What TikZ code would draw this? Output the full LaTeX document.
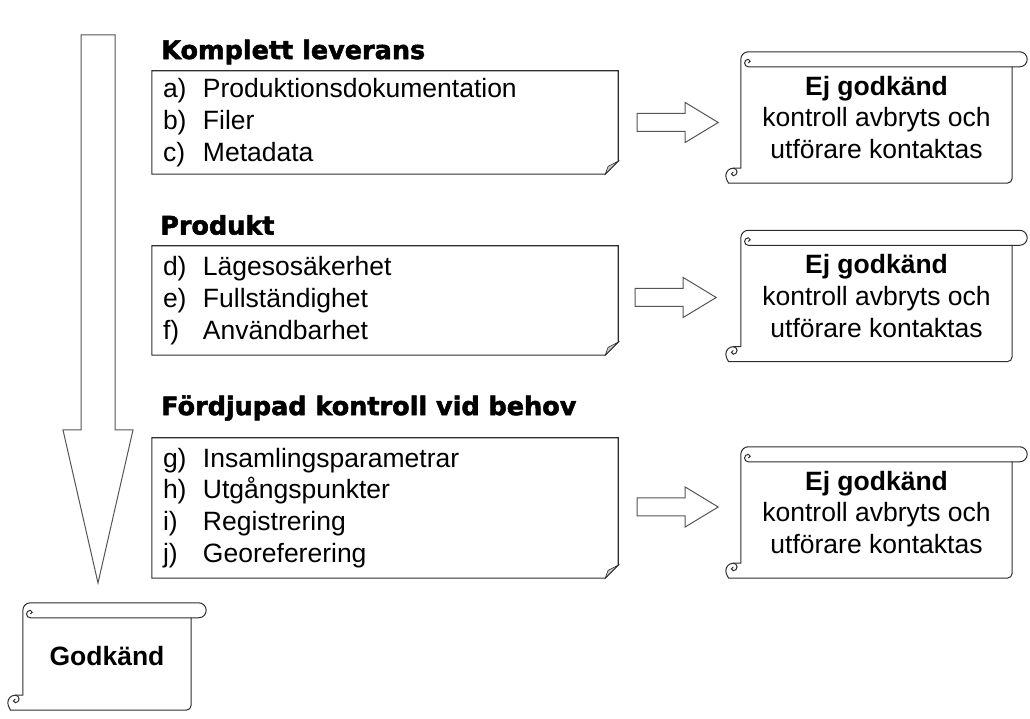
\documentclass[tikz,border=0pt]{standalone}
\usepackage{fontspec}
\setmainfont{Liberation Sans}
\newfontfamily\headfont[FakeBold=2]{DejaVu Sans Bold}

\definecolor{boxline}{RGB}{45,45,45}
\definecolor{linegray}{RGB}{85,85,85}
\definecolor{foldgray}{RGB}{200,200,200}

\tikzset{
  notebox/.style={minimum width=466pt, minimum height=#1, inner xsep=11pt, inner ysep=0pt,
    text width=444pt, align=left, font=\fontsize{26.5}{31.7}\selectfont},
  headtext/.style={anchor=west, inner sep=0pt, font=\headfont\fontsize{25.5}{30}\selectfont},
  scrollbox/.style={minimum width=#1, inner sep=0pt, align=center, font=\fontsize{26.5}{31.7}\selectfont},
  noteline/.style={draw=boxline, line width=1.1pt},
  scrollline/.style={draw=boxline, line width=1pt},
  blockarrow/.style={draw=linegray, line width=1pt, fill=white},
}

\def\foldsize{13pt}
\def\rollr{7.5pt}

% note with a folded corner round a node
\newcommand{\foldnote}[1]{%
  \draw[noteline] (#1.north west) -- (#1.north east) -- ([yshift=\foldsize]#1.south east)
    -- ([xshift=-\foldsize]#1.south east) -- (#1.south west) -- cycle;
  \draw[noteline, fill=foldgray, line width=0.6pt] ([yshift=\foldsize]#1.south east)
    -- ([xshift=-0.78*\foldsize, yshift=0.6*\foldsize]#1.south east) -- ([xshift=-\foldsize]#1.south east) -- cycle;
}

% scroll round a node
\newcommand{\scrollframe}[1]{%
  \draw[scrollline] ([yshift=-\rollr]#1.north west) arc[start angle=180, end angle=90, radius=\rollr]
    -- ([xshift=\rollr]#1.north east) arc[start angle=90, end angle=-90, radius=\rollr]
    -- ([yshift=-2*\rollr]#1.north east) [rounded corners=5pt] -- (#1.south east)
    -- ([xshift=-\rollr]#1.south west) [sharp corners]
    arc[start angle=270, end angle=90, radius=\rollr] -- ([yshift=2*\rollr]#1.south west) -- cycle;
  \draw[scrollline] ([yshift=-2*\rollr]#1.north east) -- ([xshift=\rollr, yshift=-2*\rollr]#1.north west)
    arc[start angle=270, end angle=90, radius=0.5*\rollr] arc[start angle=90, end angle=-90, radius=0.25*\rollr];
  \draw[scrollline] ([xshift=-\rollr, yshift=2*\rollr]#1.south west)
    arc[start angle=90, end angle=-90, radius=0.5*\rollr] arc[start angle=270, end angle=90, radius=0.25*\rollr];
}

\begin{document}
\begin{tikzpicture}[x=1pt, y=1pt]
\useasboundingbox (0,0) rectangle (1030,719);

% Big arrow down the left side
\draw[blockarrow] (81,684) -- (115,684) -- (115,289) -- (133,289) -- (98,136) -- (63,289) -- (81,289) -- cycle;

% Headings
\node[headtext] (levhead) at (161,667) {Komplett leverans};
\node[headtext] (prodhead) at (160,494) {Produkt};
\node[headtext] (fordhead) at (161,311) {Fördjupad kontroll vid behov};

% Check lists
\node[notebox=103pt] (leverans) at (385,596.5) {\makebox[40pt][l]{a)}Produktionsdokumentation\\
  \makebox[40pt][l]{b)}Filer\\
  \makebox[40pt][l]{c)}Metadata};
\foldnote{leverans}
\node[notebox=109pt] (produkt) at (385,418.5) {\makebox[40pt][l]{d)}Lägesosäkerhet\\
  \makebox[40pt][l]{e)}Fullständighet\\
  \makebox[40pt][l]{f)}Användbarhet};
\foldnote{produkt}
\node[notebox=140pt] (fordjupad) at (385,211) {\makebox[40pt][l]{g)}Insamlingsparametrar\\
  \makebox[40pt][l]{h)}Utgångspunkter\\
  \makebox[40pt][l]{i)}Registrering\\
  \makebox[40pt][l]{j)}Georeferering};
\foldnote{fordjupad}

% Not approved
\node[scrollbox=271pt, minimum height=131pt] (ejlev) at (876.5,601.5) {\textbf{Ej godkänd}\\kontroll avbryts och\\utförare kontaktas};
\scrollframe{ejlev}
\node[scrollbox=271pt, minimum height=131pt] (ejprod) at (876.5,423) {\textbf{Ej godkänd}\\kontroll avbryts och\\utförare kontaktas};
\scrollframe{ejprod}
\node[scrollbox=271pt, minimum height=131pt] (ejford) at (876.5,206.5) {\textbf{Ej godkänd}\\kontroll avbryts och\\utförare kontaktas};
\scrollframe{ejford}

% Approved
\node[scrollbox=168pt, minimum height=107pt] (godkand) at (107,62.5) {\textbf{Godkänd}};
\scrollframe{godkand}

% Arrows from lists to scrolls
\draw[blockarrow] ([xshift=19pt, yshift=9pt]leverans.east) -- ++(48,0) -- ++(0,11) -- ++(33,-20) -- ++(-33,-20) -- ++(0,11) -- ++(-48,0) -- cycle;
\draw[blockarrow] ([xshift=17pt, yshift=12pt]produkt.east) -- ++(48,0) -- ++(0,11) -- ++(33,-20) -- ++(-33,-20) -- ++(0,11) -- ++(-48,0) -- cycle;
\draw[blockarrow] ([xshift=19pt, yshift=10pt]fordjupad.east) -- ++(48,0) -- ++(0,11) -- ++(33,-20) -- ++(-33,-20) -- ++(0,11) -- ++(-48,0) -- cycle;
\end{tikzpicture}
\end{document}
